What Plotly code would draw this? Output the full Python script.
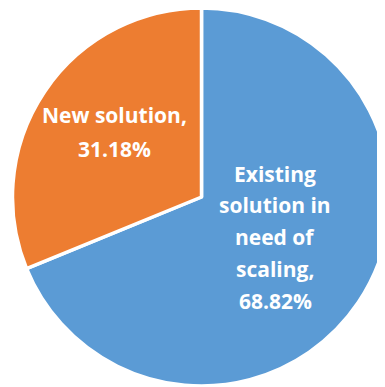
import plotly.graph_objects as go

labels = ["Existing solution in need of scaling", "New solution"]
values = [68.82, 31.18]
percent_text = ["68.82%", "31.18%"]
label_lines = [
    ["Existing", "solution in", "need of", "scaling,", percent_text[0]],
    ["New solution,", percent_text[1]],
]
colors = ["#5B9BD5", "#ED7D31"]

W, H = 385, 387
OFF = 8  # page body margin offset

def px(x):
    return (x - OFF) / W

def py(y):
    return 1 - (y - OFF) / H

fig = go.Figure(go.Pie(
    labels=labels,
    values=values,
    textinfo="none",
    sort=False,
    direction="clockwise",
    rotation=0,
    marker=dict(colors=colors, line=dict(color="white", width=3.5)),
    domain=dict(x=[px(12.5), px(390.5)], y=[py(386), py(8)]),
    showlegend=False,
    hoverinfo="label+percent",
))

FS = 21
font = dict(family="Open Sans", size=FS, color="white", weight="bold")
# label block placement (centre x, first baseline, line pitch)
blocks = [(275, 181.7, 31.9), (114.5, 123.3, 33.4)]
annotations = []
for lines, (cx, b0, pitch) in zip(label_lines, blocks):
    for i, line in enumerate(lines):
        base = b0 + i * pitch
        annotations.append(dict(
            text=line, x=px(cx), y=py(base - 0.388 * FS),
            xref="paper", yref="paper", xanchor="center", yanchor="middle",
            showarrow=False, font=font,
        ))

fig.update_layout(
    width=W, height=H,
    margin=dict(l=0, r=0, t=0, b=0),
    paper_bgcolor="white",
    plot_bgcolor="white",
    annotations=annotations,
)
fig.write_html("out.html")
